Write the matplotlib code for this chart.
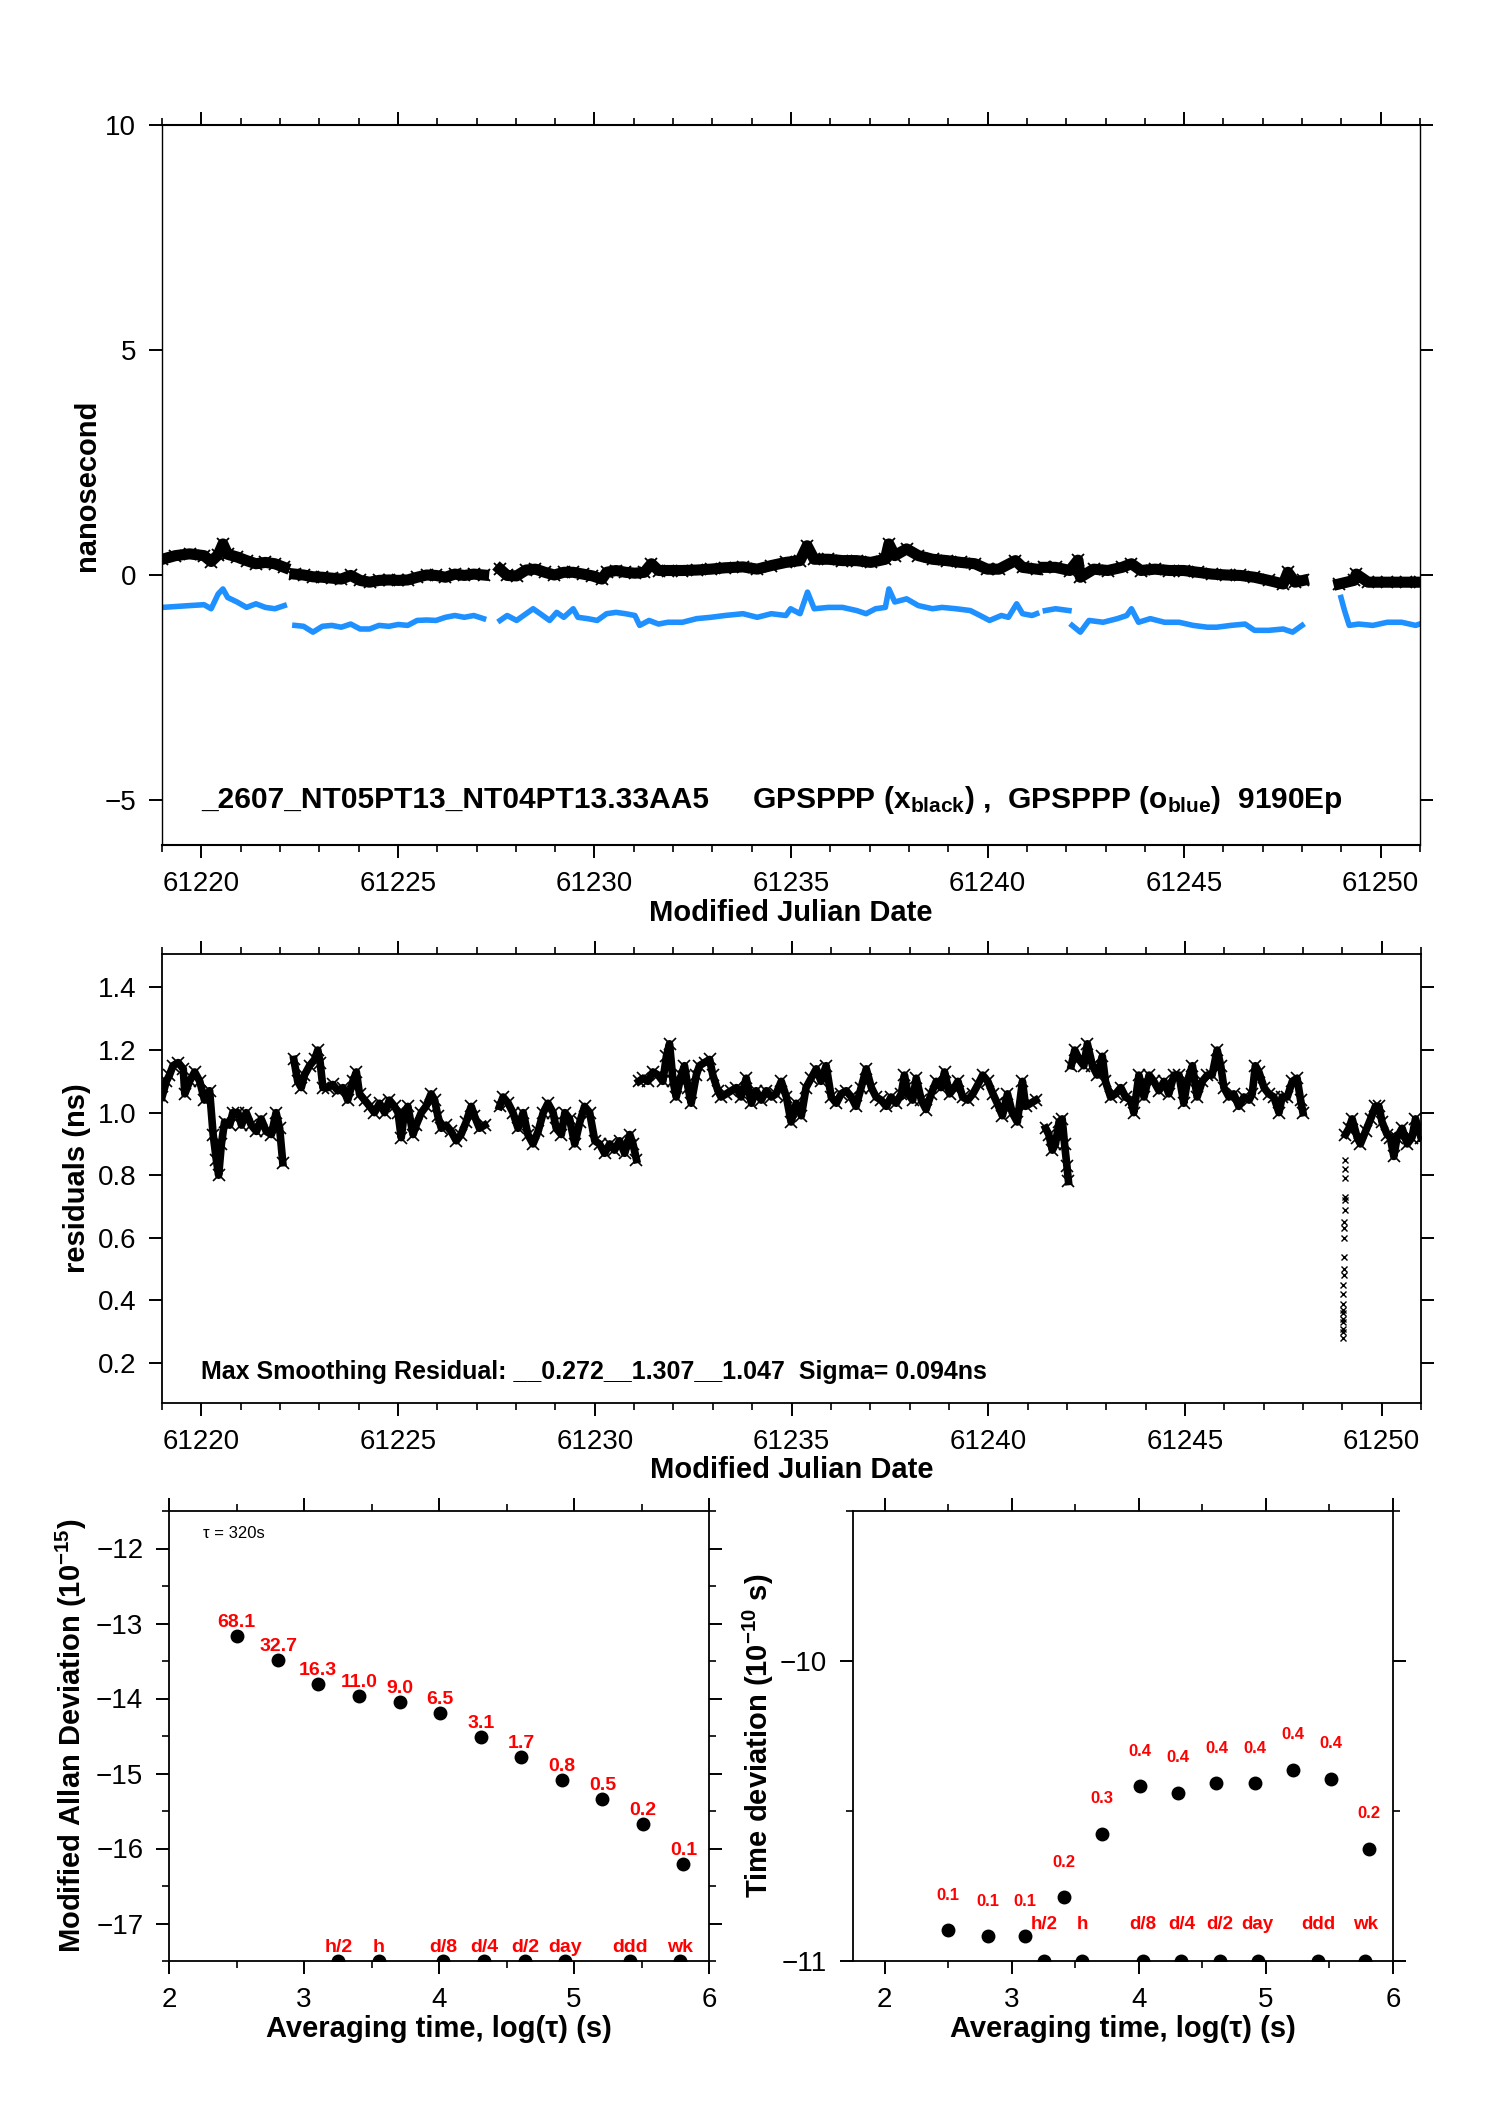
"""GPSPPP clock comparison: phase, smoothing residuals, MDEV and TDEV panels."""
import numpy as np
import matplotlib
matplotlib.use("Agg")
import matplotlib.pyplot as plt
from matplotlib.ticker import MultipleLocator, FormatStrFormatter

plt.rcParams["font.family"] = ["Liberation Sans", "DejaVu Sans"]
plt.rcParams["mathtext.fontset"] = "custom"
plt.rcParams["mathtext.rm"] = "Liberation Sans"
plt.rcParams["mathtext.bf"] = "Liberation Sans:bold"
plt.rcParams["mathtext.it"] = "Liberation Sans:italic"
plt.rcParams["mathtext.sf"] = "Liberation Sans"

NAN = np.nan
BLUE = "#1e90ff"
RED = "#ff0000"

# ---- panel 1: phase (ns), segments separated by NaN ----
BLACK_MJD = [61219.01, 61219.34, 61219.70, 61220.07, 61220.25, 61220.43, 61220.55, 61220.67, 61220.91,
             61221.15, 61221.39, 61221.63, 61221.87, 61222.11, NAN,
             61222.38, 61222.60, 61222.84, 61223.08, 61223.32, 61223.56, 61223.80, 61224.04, 61224.28,
             61224.52, 61224.77, 61225.01, 61225.25, 61225.49, 61225.73, 61225.97, 61226.21, 61226.45,
             61226.69, 61226.93, 61227.18, NAN,
             61227.60, 61227.78, 61228.02, 61228.26, 61228.50, 61228.74, 61228.98, 61229.22, 61229.46,
             61229.71, 61229.95, 61230.19, 61230.31, 61230.55, 61230.79, 61231.03, 61231.27, 61231.45,
             61231.63, 61231.87, 61232.24, 61232.60, 61232.96, 61233.32, 61233.78, 61234.14, 61234.50,
             61234.87, 61235.23, 61235.41, 61235.59, 61235.95, 61236.31, 61236.67, 61237.03, 61237.40,
             61237.49, 61237.64, 61237.94, 61238.24, 61238.60, 61238.96, 61239.32, 61239.68, 61239.99,
             61240.29, 61240.71, 61240.89, 61241.25, NAN,
             61241.44, 61241.73, 61242.09, 61242.30, 61242.36, 61242.70, 61243.06, 61243.42, 61243.66,
             61243.90, 61244.26, 61244.62, 61244.99, 61245.35, 61245.71, 61246.07, 61246.43, 61246.79,
             61247.15, 61247.52, 61247.64, 61247.82, 61248.03, NAN,
             61248.94, 61249.32, 61249.38, 61249.68, 61250.17, 61250.65, 61250.99]
BLACK_NS = [0.35, 0.43, 0.47, 0.43, 0.30, 0.45, 0.69, 0.46, 0.40,
            0.32, 0.25, 0.28, 0.25, 0.17, NAN,
            0.02, 0.00, -0.04, -0.05, -0.07, -0.09, -0.01, -0.12, -0.16,
            -0.12, -0.11, -0.12, -0.11, -0.05, 0.00, -0.01, -0.05, 0.02,
            -0.01, 0.02, 0.00, NAN,
            0.13, -0.01, -0.02, 0.11, 0.13, 0.06, 0.00, 0.06, 0.06,
            0.02, -0.02, -0.09, 0.06, 0.10, 0.06, 0.04, 0.06, 0.25,
            0.10, 0.10, 0.10, 0.11, 0.13, 0.16, 0.18, 0.13, 0.21,
            0.28, 0.32, 0.65, 0.35, 0.35, 0.32, 0.32, 0.28, 0.35,
            0.69, 0.43, 0.58, 0.43, 0.35, 0.32, 0.28, 0.25, 0.13,
            0.13, 0.32, 0.17, 0.13, NAN,
            0.17, 0.17, 0.10, 0.33, -0.05, 0.13, 0.10, 0.17, 0.25,
            0.10, 0.13, 0.10, 0.10, 0.06, 0.02, 0.00, -0.01, -0.05,
            -0.12, -0.20, 0.06, -0.16, -0.12, NAN,
            -0.20, -0.12, 0.02, -0.16, -0.16, -0.16, -0.16]

BLUE_MJD = [61219.01, 61219.34, 61219.70, 61220.07, 61220.25, 61220.43, 61220.55, 61220.67, 61220.91,
            61221.15, 61221.39, 61221.63, 61221.87, 61222.11, NAN,
            61222.38, 61222.60, 61222.84, 61223.08, 61223.32, 61223.56, 61223.80, 61224.04, 61224.28,
            61224.52, 61224.77, 61225.01, 61225.25, 61225.49, 61225.73, 61225.97, 61226.21, 61226.45,
            61226.69, 61226.93, 61227.18, NAN,
            61227.60, 61227.78, 61228.02, 61228.26, 61228.44, 61228.62, 61228.86, 61229.04, 61229.22,
            61229.46, 61229.58, 61229.83, 61230.07, 61230.31, 61230.55, 61230.79, 61231.03, 61231.15,
            61231.39, 61231.63, 61231.87, 61232.24, 61232.60, 61232.96, 61233.32, 61233.78, 61234.14,
            61234.50, 61234.87, 61234.99, 61235.23, 61235.42, 61235.59, 61235.95, 61236.31, 61236.67,
            61236.91, 61237.15, 61237.40, 61237.49, 61237.64, 61237.94, 61238.24, 61238.60, 61238.84,
            61239.20, 61239.56, 61239.81, 61240.05, 61240.35, 61240.53, 61240.74, 61240.89, 61241.13,
            61241.25, NAN,
            61241.47, 61241.73, 61242.07, NAN,
            61242.15, 61242.36, 61242.58, 61242.94, 61243.30, 61243.54, 61243.66, 61243.84, 61244.14,
            61244.50, 61244.87, 61245.23, 61245.59, 61245.83, 61246.19, 61246.55, 61246.79, 61247.15,
            61247.52, 61247.76, 61248.00, NAN,
            61248.99, 61249.08, 61249.20, 61249.44, 61249.80, 61250.17, 61250.53, 61250.89, 61250.99]
BLUE_NS = [-0.72, -0.70, -0.68, -0.66, -0.75, -0.42, -0.31, -0.50, -0.60,
           -0.72, -0.64, -0.72, -0.75, -0.68, NAN,
           -1.12, -1.14, -1.27, -1.14, -1.12, -1.16, -1.09, -1.20, -1.20,
           -1.12, -1.14, -1.10, -1.12, -1.01, -1.00, -1.01, -0.94, -0.90,
           -0.94, -0.90, -0.97, NAN,
           -1.01, -0.90, -1.01, -0.86, -0.75, -0.86, -1.01, -0.83, -0.94,
           -0.75, -0.94, -0.97, -1.01, -0.86, -0.83, -0.86, -0.90, -1.12,
           -1.01, -1.09, -1.05, -1.05, -0.97, -0.94, -0.90, -0.86, -0.94,
           -0.86, -0.90, -0.75, -0.86, -0.38, -0.75, -0.72, -0.72, -0.79,
           -0.86, -0.75, -0.72, -0.31, -0.60, -0.53, -0.68, -0.75, -0.72,
           -0.75, -0.79, -0.90, -1.01, -0.90, -0.94, -0.64, -0.86, -0.90,
           -0.86, NAN,
           -0.79, -0.75, -0.79, NAN,
           -1.12, -1.27, -1.01, -1.05, -0.97, -0.90, -0.75, -1.05, -0.97,
           -1.05, -1.05, -1.12, -1.16, -1.16, -1.12, -1.09, -1.23, -1.23,
           -1.20, -1.27, -1.12, NAN,
           -0.50, -0.79, -1.12, -1.09, -1.12, -1.05, -1.05, -1.12, -1.09]

# ---- panel 2: smoothing residuals (ns) ----
RES_MJD = [61219.00, 61219.11, 61219.19, 61219.28, 61219.41, 61219.54, 61219.58, 61219.70, 61219.83,
           61219.96, 61220.08, 61220.21, 61220.30, 61220.38, 61220.44, 61220.51, 61220.59, 61220.72,
           61220.80, 61220.93, 61221.02, 61221.14, 61221.27, 61221.40, 61221.52, 61221.65, 61221.78,
           61221.90, 61221.99, 61222.07, NAN,
           61222.35, 61222.45, 61222.54, 61222.62, 61222.75, 61222.88, 61222.96, 61223.02, 61223.09,
           61223.22, 61223.34, 61223.47, 61223.60, 61223.72, 61223.85, 61223.94, 61224.02, 61224.15,
           61224.28, 61224.40, 61224.53, 61224.66, 61224.78, 61224.91, 61225.00, 61225.08, 61225.16,
           61225.25, 61225.38, 61225.46, 61225.59, 61225.71, 61225.84, 61225.93, 61226.01, 61226.10,
           61226.22, 61226.35, 61226.48, 61226.60, 61226.73, 61226.86, 61226.94, 61227.07, 61227.20, NAN,
           61227.58, 61227.67, 61227.80, 61227.92, 61228.05, 61228.18, 61228.30, 61228.43, 61228.56,
           61228.69, 61228.81, 61228.94, 61229.02, 61229.15, 61229.24, 61229.36, 61229.49, 61229.62,
           61229.74, 61229.87, 61230.00, 61230.12, 61230.25, 61230.38, 61230.50, 61230.63, 61230.76,
           61230.89, 61230.97, 61231.06, NAN,
           61231.12, 61231.23, 61231.35, 61231.48, 61231.61, 61231.73, 61231.82, 61231.90, 61231.99,
           61232.07, 61232.20, 61232.28, 61232.37, 61232.45, 61232.58, 61232.66, 61232.79, 61232.92,
           61233.00, 61233.13, 61233.21, 61233.34, 61233.47, 61233.60, 61233.72, 61233.85, 61233.98,
           61234.10, 61234.23, 61234.36, 61234.49, 61234.61, 61234.74, 61234.87, 61234.99, 61235.12,
           61235.25, 61235.37, 61235.50, 61235.63, 61235.75, 61235.88, 61236.01, 61236.14, 61236.26,
           61236.39, 61236.52, 61236.64, 61236.77, 61236.90, 61237.03, 61237.15, 61237.28, 61237.41,
           61237.53, 61237.66, 61237.79, 61237.87, 61237.96, 61238.08, 61238.17, 61238.30, 61238.42,
           61238.55, 61238.68, 61238.80, 61238.89, 61239.02, 61239.14, 61239.23, 61239.35, 61239.48,
           61239.61, 61239.74, 61239.86, 61239.99, 61240.12, 61240.23, 61240.36, 61240.49, 61240.61,
           61240.74, 61240.87, 61240.95, 61241.08, 61241.21, NAN,
           61241.46, 61241.54, 61241.63, 61241.71, 61241.80, 61241.88, 61241.94, 61242.00, 61242.04, NAN,
           61242.11, 61242.20, 61242.31, 61242.43, 61242.52, 61242.65, 61242.77, 61242.90, 61242.98,
           61243.11, 61243.24, 61243.37, 61243.49, 61243.62, 61243.70, 61243.83, 61243.96, 61244.09,
           61244.21, 61244.34, 61244.47, 61244.59, 61244.72, 61244.85, 61244.97, 61245.06, 61245.19,
           61245.31, 61245.44, 61245.57, 61245.69, 61245.82, 61245.91, 61245.99, 61246.12, 61246.24,
           61246.37, 61246.50, 61246.63, 61246.71, 61246.79, 61246.88, 61247.01, 61247.13, 61247.26,
           61247.39, 61247.47, 61247.60, 61247.73, 61247.85, 61247.94, 61248.00, NAN,
           61249.08, 61249.17, 61249.25, 61249.38, 61249.46, 61249.59, 61249.72, 61249.84, 61249.93,
           61250.01, 61250.14, 61250.22, 61250.31, 61250.39, 61250.52, 61250.65, 61250.77, 61250.86,
           61251.00]
RES_NS = [1.05, 1.10, 1.12, 1.15, 1.16, 1.14, 1.06, 1.10, 1.13,
          1.10, 1.04, 1.07, 0.93, 0.85, 0.80, 0.90, 0.97, 0.96,
          1.00, 1.00, 0.96, 1.00, 0.96, 0.94, 0.98, 0.94, 0.93,
          1.00, 0.95, 0.84, NAN,
          1.17, 1.10, 1.08, 1.12, 1.15, 1.17, 1.20, 1.16, 1.08,
          1.08, 1.09, 1.07, 1.08, 1.04, 1.10, 1.13, 1.06, 1.04,
          1.02, 1.00, 1.03, 1.00, 1.04, 1.02, 1.00, 0.92, 1.00,
          1.02, 0.93, 0.96, 1.00, 1.02, 1.06, 1.04, 0.99, 0.95,
          0.96, 0.94, 0.91, 0.93, 0.97, 1.02, 0.99, 0.95, 0.96, NAN,
          1.02, 1.05, 1.03, 1.00, 0.95, 1.00, 0.93, 0.90, 0.94,
          1.00, 1.03, 1.00, 0.95, 0.93, 1.00, 0.98, 0.90, 0.97,
          1.02, 1.00, 0.91, 0.90, 0.87, 0.90, 0.88, 0.91, 0.87,
          0.93, 0.90, 0.85, NAN,
          1.10, 1.11, 1.10, 1.13, 1.12, 1.10, 1.18, 1.22, 1.10,
          1.05, 1.12, 1.15, 1.08, 1.03, 1.12, 1.15, 1.16, 1.17,
          1.12, 1.07, 1.05, 1.06, 1.07, 1.08, 1.05, 1.11, 1.03,
          1.07, 1.04, 1.07, 1.05, 1.06, 1.10, 1.05, 0.97, 1.03,
          0.99, 1.08, 1.11, 1.14, 1.10, 1.15, 1.05, 1.03, 1.06,
          1.07, 1.05, 1.02, 1.08, 1.14, 1.08, 1.05, 1.04, 1.02,
          1.05, 1.03, 1.06, 1.12, 1.06, 1.04, 1.11, 1.04, 1.01,
          1.06, 1.10, 1.08, 1.13, 1.06, 1.08, 1.10, 1.05, 1.04,
          1.06, 1.09, 1.12, 1.10, 1.06, 1.03, 0.99, 1.06, 1.00,
          0.97, 1.10, 1.02, 1.03, 1.04, NAN,
          0.95, 0.93, 0.88, 0.90, 0.97, 0.98, 0.90, 0.83, 0.78, NAN,
          1.15, 1.20, 1.17, 1.15, 1.22, 1.15, 1.12, 1.18, 1.10,
          1.05, 1.06, 1.08, 1.05, 1.04, 1.00, 1.12, 1.05, 1.12,
          1.10, 1.07, 1.10, 1.06, 1.12, 1.12, 1.03, 1.10, 1.15,
          1.05, 1.10, 1.12, 1.12, 1.20, 1.15, 1.08, 1.05, 1.06,
          1.02, 1.05, 1.04, 1.06, 1.15, 1.13, 1.08, 1.06, 1.05,
          1.00, 1.05, 1.05, 1.10, 1.11, 1.04, 1.00, NAN,
          0.93, 0.95, 0.98, 0.92, 0.90, 0.94, 0.98, 1.02, 1.02,
          0.97, 0.93, 0.92, 0.86, 0.92, 0.95, 0.90, 0.92, 0.98,
          0.92]
# isolated outliers at the start of the last arc
OUT_MJD = [61249.07, 61249.07, 61249.08, 61249.07, 61249.07, 61249.06, 61249.05, 61249.05, 61249.05,
           61249.04, 61249.04, 61249.04, 61249.03, 61249.03, 61249.03, 61249.02, 61249.02, 61249.02,
           61249.02, 61249.03, 61249.02, 61249.03]
OUT_NS = [0.85, 0.82, 0.79, 0.73, 0.72, 0.69, 0.65, 0.63, 0.60,
          0.54, 0.50, 0.48, 0.45, 0.42, 0.39, 0.36, 0.33, 0.30,
          0.28, 0.31, 0.34, 0.37]

# ---- panel 3/4: stability ----
LOG_TAU = [2.50, 2.81, 3.10, 3.41, 3.71, 4.01, 4.31, 4.61, 4.91, 5.21, 5.51, 5.81]
MDEV_LOG = [-13.17, -13.49, -13.80, -13.96, -14.05, -14.19, -14.51, -14.78, -15.08, -15.34, -15.67, -16.20]
MDEV_LBL = ["68.1", "32.7", "16.3", "11.0", "9.0", "6.5", "3.1", "1.7", "0.8", "0.5", "0.2", "0.1"]
TDEV_LOG = [-10.898, -10.916, -10.917, -10.787, -10.575, -10.418, -10.439, -10.406, -10.406,
            -10.362, -10.392, -10.625]
TDEV_LBL = ["0.1", "0.1", "0.1", "0.2", "0.3", "0.4", "0.4", "0.4", "0.4", "0.4", "0.4", "0.2"]
MARK_LOG = [3.255, 3.556, 4.033, 4.334, 4.636, 4.936, 5.413, 5.782]
MARK_LBL = ["h/2", "h", "d/8", "d/4", "d/2", "day", "ddd", "wk"]

W, H = 1488, 2105
fig = plt.figure(figsize=(W / 100, H / 100), dpi=100)


def box(l, r, t, b):
    return [l / W, 1 - b / H, (r - l) / W, (b - t) / H]


def style(ax, lw_tb=1.5, lw_lr=1.0):
    for s in ("top", "bottom"):
        ax.spines[s].set_linewidth(lw_tb)
    for s in ("left", "right"):
        ax.spines[s].set_linewidth(lw_lr)
    ax.tick_params(which="both", direction="out", top=True, right=True,
                   labeltop=False, labelright=False, labelsize=20, pad=9)
    ax.tick_params(which="major", length=9.5, width=1.4)
    ax.tick_params(which="minor", length=5, width=1.2)


# panel 1
ax1 = fig.add_axes(box(162, 1420, 125, 845))
ax1.plot(BLUE_MJD, BLUE_NS, color=BLUE, lw=4)
ax1.plot(BLACK_MJD, BLACK_NS, color="k", lw=8)
ax1.plot(BLACK_MJD, BLACK_NS, "x", color="k", ms=8, mew=1.3)
ax1.set_xlim(61219, 61251)
ax1.set_ylim(-6, 10)
ax1.xaxis.set_major_locator(MultipleLocator(5))
ax1.xaxis.set_minor_locator(MultipleLocator(1))
ax1.yaxis.set_major_locator(MultipleLocator(5))
style(ax1)
ax1.set_ylabel("nanosecond", fontsize=21, fontweight="bold")
ax1.yaxis.set_label_coords(-0.060, 0.5)
ax1.yaxis.label.set_va("center")
ax1.set_xlabel("Modified Julian Date", fontsize=21, fontweight="bold")
ax1.xaxis.set_label_coords(0.5, -0.094)
ax1.xaxis.label.set_va("center")
ax1.text(61220.0, -5, "_2607_NT05PT13_NT04PT13.33AA5", fontsize=21.5,
         fontweight="bold", ha="left", va="center")
ax1.text(61234.01, -5,
         r"GPSPPP (x$_{\mathbf{black}}$) ,  GPSPPP (o$_{\mathbf{blue}}$)  9190Ep",
         fontsize=21.5, fontweight="bold", ha="left", va="center")

# panel 2
ax2 = fig.add_axes(box(162, 1421, 954, 1403))
ax2.plot(RES_MJD, RES_NS, color="k", lw=5.5)
ax2.plot(RES_MJD, RES_NS, "x", color="k", ms=8, mew=1.2)
ax2.plot(OUT_MJD, OUT_NS, "x", color="k", ms=5, mew=1.0, ls="none")
ax2.set_xlim(61219, 61251)
ax2.set_ylim(0.072, 1.507)
ax2.xaxis.set_major_locator(MultipleLocator(5))
ax2.xaxis.set_minor_locator(MultipleLocator(1))
ax2.yaxis.set_major_locator(MultipleLocator(0.2))
ax2.yaxis.set_major_formatter(FormatStrFormatter("%.1f"))
style(ax2, 1.3, 1.3)
ax2.set_ylabel("residuals (ns)", fontsize=21, fontweight="bold")
ax2.yaxis.set_label_coords(-0.0675, 0.5)
ax2.yaxis.label.set_va("center")
ax2.set_xlabel("Modified Julian Date", fontsize=21, fontweight="bold")
ax2.xaxis.set_label_coords(0.5, -0.149)
ax2.xaxis.label.set_va("center")
ax2.text(61220.0, 0.171, "Max Smoothing Residual: __0.272__1.307__1.047  Sigma= 0.094ns",
         fontsize=18, fontweight="bold", ha="left", va="center")

# panel 3: modified Allan deviation
ax3 = fig.add_axes(box(169, 709, 1511, 1961))
ax3.plot(LOG_TAU, MDEV_LOG, "o", color="k", ms=9)
ax3.set_xlim(2, 6)
ax3.set_ylim(-17.5, -11.5)
ax3.plot(MARK_LOG, [-17.5] * len(MARK_LOG), "o", color="k", ms=9)
for x, y, s in zip(LOG_TAU, MDEV_LOG, MDEV_LBL):
    ax3.annotate(s, (x, y), xytext=(0, 9.7), textcoords="offset points",
                 ha="center", va="center", color=RED, fontsize=14, fontweight="bold")
for x, s in zip(MARK_LOG, MARK_LBL):
    ax3.annotate(s, (x, -17.5), xytext=(0, 10), textcoords="offset points",
                 ha="center", va="center", color=RED, fontsize=14, fontweight="bold")
ax3.xaxis.set_major_locator(MultipleLocator(1))
ax3.xaxis.set_minor_locator(MultipleLocator(0.5))
ax3.yaxis.set_major_locator(MultipleLocator(1))
ax3.yaxis.set_minor_locator(MultipleLocator(0.5))
style(ax3, 1.3, 1.3)
ax3.text(0.063, 0.949, "τ = 320s", transform=ax3.transAxes, fontsize=12,
         ha="left", va="center")
ax3.set_ylabel(r"Modified Allan Deviation (10$^{\mathbf{-15}}$)", fontsize=21, fontweight="bold")
ax3.yaxis.set_label_coords(-0.18, 0.5)
ax3.yaxis.label.set_va("center")
ax3.set_xlabel("Averaging time, log(τ) (s)", fontsize=21, fontweight="bold")
ax3.xaxis.set_label_coords(0.5, -0.151)
ax3.xaxis.label.set_va("center")

# panel 4: time deviation
ax4 = fig.add_axes(box(853, 1393, 1511, 1961))
ax4.plot(LOG_TAU, TDEV_LOG, "o", color="k", ms=9)
ax4.set_xlim(1.75, 6)
ax4.set_ylim(-11, -9.5)
ax4.plot(MARK_LOG, [-11] * len(MARK_LOG), "o", color="k", ms=9)
for x, y, s in zip(LOG_TAU, TDEV_LOG, TDEV_LBL):
    ax4.annotate(s, (x, y), xytext=(0, 25), textcoords="offset points",
                 ha="center", va="center", color=RED, fontsize=12, fontweight="bold")
for x, s in zip(MARK_LOG, MARK_LBL):
    ax4.annotate(s, (x, -11), xytext=(0, 26), textcoords="offset points",
                 ha="center", va="center", color=RED, fontsize=13.5, fontweight="bold")
ax4.xaxis.set_major_locator(MultipleLocator(1))
ax4.xaxis.set_minor_locator(MultipleLocator(0.5))
ax4.yaxis.set_major_locator(MultipleLocator(1))
ax4.yaxis.set_minor_locator(MultipleLocator(0.5))
style(ax4, 1.3, 1.3)
ax4.set_ylabel(r"Time deviation (10$^{\mathbf{-10}}$ s)", fontsize=21, fontweight="bold")
ax4.yaxis.set_label_coords(-0.176, 0.5)
ax4.yaxis.label.set_va("center")
ax4.set_xlabel("Averaging time, log(τ) (s)", fontsize=21, fontweight="bold")
ax4.xaxis.set_label_coords(0.5, -0.151)
ax4.xaxis.label.set_va("center")

fig.savefig("out.png", dpi=100)
